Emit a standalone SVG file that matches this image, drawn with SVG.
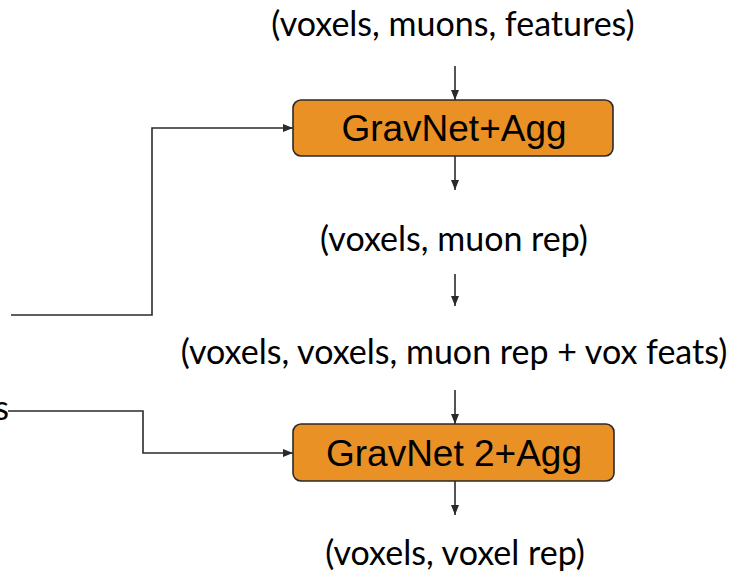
<svg xmlns="http://www.w3.org/2000/svg" width="739" height="576" viewBox="0 0 739 576">
  <style>
    .lbl { font-family: "Lato", "Open Sans", sans-serif; font-size: 34px; fill: #000; text-anchor: middle; }
    .box { fill: #EA9126; stroke: #2a2a2a; stroke-width: 1.6; }
    .boxtxt { font-family: "Liberation Sans", Arial, sans-serif; font-size: 37px; fill: #000; text-anchor: middle; }
    .wire { fill: none; stroke: #2a2a2a; stroke-width: 1.6; }
  </style>
  <defs>
    <marker id="arrow" viewBox="0 0 10 10" refX="10" refY="5" markerWidth="10" markerHeight="10" markerUnits="userSpaceOnUse" orient="auto">
      <path d="M0,1 L10,5 L0,9 z" fill="#2a2a2a"/>
    </marker>
  </defs>

  <rect width="739" height="576" fill="#fff"/>

  <!-- tensor shape labels -->
  <g id="in-shape"><text class="lbl" x="453" y="36">(voxels, muons, features)</text></g>
  <g id="muon-rep"><text class="lbl" x="454" y="251">(voxels, muon rep)</text></g>
  <g id="pair-shape"><text class="lbl" x="454" y="364">(voxels, voxels, muon rep + vox feats)</text></g>
  <g id="out-shape"><text class="lbl" x="455" y="565">(voxels, voxel rep)</text></g>
  <g id="side-label"><text class="lbl" x="9" y="420" style="text-anchor:end">s</text></g>

  <!-- processing blocks -->
  <g id="gravnet1">
    <rect class="box" x="293" y="100" width="320" height="56" rx="8"/>
    <text class="boxtxt" x="454" y="141">GravNet+Agg</text>
  </g>
  <g id="gravnet2">
    <rect class="box" x="293" y="424" width="321" height="57" rx="8"/>
    <text class="boxtxt" x="454" y="466">GravNet 2+Agg</text>
  </g>

  <!-- connectors -->
  <g id="connectors">
    <line class="wire" x1="455" y1="66" x2="455" y2="100" marker-end="url(#arrow)"/>
    <line class="wire" x1="455" y1="156" x2="455" y2="190" marker-end="url(#arrow)"/>
    <line class="wire" x1="455" y1="274" x2="455" y2="306" marker-end="url(#arrow)"/>
    <line class="wire" x1="455" y1="390" x2="455" y2="424" marker-end="url(#arrow)"/>
    <line class="wire" x1="455" y1="481" x2="455" y2="515" marker-end="url(#arrow)"/>
    <polyline class="wire" points="11,315 152,315 152,128 293,128" marker-end="url(#arrow)"/>
    <polyline class="wire" points="8,411 143,411 143,453 293,453" marker-end="url(#arrow)"/>
  </g>
</svg>
